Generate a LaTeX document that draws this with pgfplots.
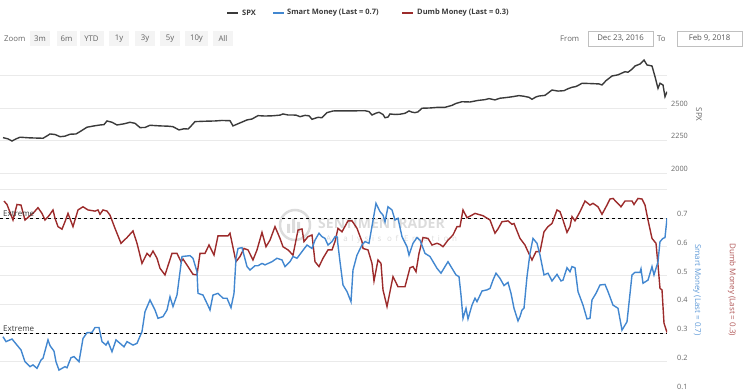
\documentclass[border=0pt]{standalone}
\usepackage{fontspec}
\setmainfont{Open Sans}
\usepackage{pgfplots}
\pgfplotsset{compat=1.18}
\definecolor{spx}{HTML}{3A3A3A}
\definecolor{smart}{HTML}{4287D0}
\definecolor{dumb}{HTML}{9C2B2B}
\definecolor{gridc}{HTML}{EAEAEA}
\definecolor{lab}{HTML}{666666}
\definecolor{btn}{HTML}{F4F4F4}
\definecolor{wm}{HTML}{DCDCDC}
\newcommand\fs[1]{\fontsize{#1}{#1}\selectfont}
\begin{document}
\begin{tikzpicture}[x=1pt,y=1pt]
\useasboundingbox (0,0) rectangle (745,-390);
% legend
\draw[spx, line width=1.3] (227,-13) -- (238,-13);
\node[anchor=west, inner sep=0, font=\fs{7.5}\bfseries, text=spx] at (242,-13) {SPX};
\draw[smart, line width=1.3] (273,-13) -- (284,-13);
\node[anchor=west, inner sep=0, font=\fs{7.5}\bfseries, text=spx] at (287,-13) {Smart Money (Last = 0.7)};
\draw[dumb, line width=1.3] (402,-13) -- (413,-13);
\node[anchor=west, inner sep=0, font=\fs{7.5}\bfseries, text=spx] at (417,-13) {Dumb Money (Last = 0.3)};
% zoom buttons
\node[anchor=west, inner sep=0, font=\fs{7.8}, text=lab] at (4,-38.5) {Zoom};
\foreach \c/\w/\t in {40/20/3m, 66.5/20/6m, 91.5/24/YTD, 119/20/1y, 145/20/3y, 170/20/5y, 196.5/23/10y, 223/20/All}{
  \fill[btn] (\c-\w/2,-31) rectangle (\c+\w/2,-46);
  \node[inner sep=0, font=\fs{7.8}, text=spx!80] at (\c,-38.5) {\t};
}
\node[anchor=west, inner sep=0, font=\fs{7.8}, text=lab] at (560,-38.5) {From};
\draw[gridc!60!gray, line width=0.6, fill=white] (588,-31.5) rectangle (653,-46);
\node[inner sep=0, font=\fs{7.8}, text=spx!85] at (620.5,-38.5) {Dec 23, 2016};
\node[anchor=west, inner sep=0, font=\fs{7.8}, text=lab] at (657,-38.5) {To};
\draw[gridc!60!gray, line width=0.6, fill=white] (677,-31.5) rectangle (742,-46);
\node[inner sep=0, font=\fs{7.8}, text=spx!85] at (709.5,-38.5) {Feb 9, 2018};
% watermark
\draw[wm, line width=2.5] (295,-225) circle (15);
\fill[wm] (287,-233) rectangle (290,-224) (292,-233) rectangle (295,-219) (297,-233) rectangle (300,-222);
\node[anchor=west, inner sep=0, font=\fs{14}\bfseries, text=wm] at (318,-224) {SENTIMENTRADER};
\node[anchor=west, inner sep=0, font=\fs{8}\addfontfeatures{LetterSpace=45}, text=wm] at (326,-239) {Analysis of Emotion};
% top pane
\begin{axis}[at={(0pt,-50pt)}, anchor=north west, scale only axis,
  width=667pt, height=137pt, xmin=0, xmax=667, ymin=1892, ymax=2946,
  axis line style={draw=none}, xtick=\empty,
  ytick={2000,2250,2500,2750}, yticklabels={2000,2250,2500,},
  yticklabel pos=right, ymajorgrids, grid style={gridc, line width=0.8},
  major tick length=0,
  /pgf/number format/assume math mode=true,
  yticklabel style={font=\fs{7.3}, text=lab, anchor=west, inner sep=0, xshift=4pt, yshift=4.5pt}]
\addplot[spx, line width=1.4, mark=none] coordinates {
(3,2272)(8,2262)(12,2246)(16,2262)(20,2275)(30,2270)(43,2267)(47,2285)(50,2300)(55,2296)(60,2279)(65,2283)(70,2298)(76,2300)(80,2318)(87,2352)(94,2362)(100,2369)(104,2372)(107,2400)(112,2390)(117,2369)(124,2378)(130,2390)(135,2382)(140,2349)(145,2350)(150,2367)(160,2362)(168,2360)(173,2356)(179,2331)(184,2340)(188,2338)(190,2352)(195,2395)(205,2398)(215,2400)(222,2404)(230,2402)(233,2362)(240,2385)(247,2408)(252,2415)(258,2441)(265,2438)(273,2440)(280,2445)(283,2454)(288,2446)(292,2446)(296,2445)(300,2433)(305,2443)(309,2440)(312,2413)(318,2428)(322,2425)(327,2464)(333,2477)(345,2478)(355,2478)(365,2479)(369,2472)(372,2446)(376,2460)(379,2467)(383,2450)(385,2425)(388,2430)(390,2454)(395,2450)(400,2452)(405,2459)(409,2477)(412,2468)(415,2464)(418,2470)(422,2498)(430,2500)(438,2505)(445,2505)(452,2520)(456,2535)(462,2548)(470,2546)(478,2558)(485,2564)(489,2572)(495,2562)(500,2575)(505,2579)(512,2586)(519,2595)(524,2590)(529,2582)(532,2567)(536,2585)(539,2592)(545,2597)(552,2638)(558,2630)(564,2633)(568,2648)(572,2659)(576,2665)(579,2677)(582,2690)(590,2688)(599,2685)(602,2677)(606,2710)(612,2746)(618,2755)(625,2779)(628,2775)(632,2798)(635,2823)(640,2838)(644,2869)(647,2831)(652,2823)(655,2741)(658,2651)(660,2690)(663,2677)(665,2587)(667,2625)};
\end{axis}
% bottom pane
\begin{axis}[at={(0pt,-189.25pt)}, anchor=north west, scale only axis,
  width=667pt, height=201.25pt, xmin=0, xmax=667, ymin=0.1, ymax=0.8,
  axis line style={draw=none}, xtick=\empty,
  ytick={0.1,0.2,0.3,0.4,0.5,0.6,0.7,0.8}, yticklabels={0.1,0.2,0.3,0.4,0.5,0.6,0.7,},
  yticklabel pos=right, ymajorgrids, grid style={gridc, line width=0.8},
  major tick length=0,
  /pgf/number format/assume math mode=true,
  yticklabel style={font=\fs{7.3}, text=lab, anchor=west, inner sep=0, xshift=10pt, yshift=4pt}]
\addplot[black, dashed, line width=0.9, mark=none] coordinates {(0,0.7)(667,0.7)};
\addplot[black, dashed, line width=0.9, mark=none] coordinates {(0,0.3)(667,0.3)};
\addplot[dumb, line width=1.4, mark=none] coordinates {
(4,0.759)(7,0.747)(13,0.693)(17,0.747)(21,0.745)(25,0.693)(30,0.708)(33,0.716)(38,0.736)(42,0.716)(45,0.693)(49,0.708)(53,0.728)(55,0.699)(58,0.670)(62,0.661)(65,0.687)(68,0.716)(73,0.670)(78,0.728)(83,0.739)(88,0.728)(95,0.724)(98,0.728)(100,0.713)(103,0.728)(107,0.724)(110,0.710)(115,0.664)(121,0.612)(127,0.632)(133,0.655)(137,0.612)(142,0.542)(147,0.577)(150,0.566)(153,0.585)(157,0.560)(160,0.525)(165,0.502)(172,0.577)(177,0.577)(181,0.548)(183,0.557)(188,0.531)(193,0.504)(197,0.502)(200,0.577)(205,0.577)(209,0.606)(214,0.571)(218,0.638)(228,0.638)(230,0.647)(236,0.548)(240,0.566)(244,0.594)(248,0.589)(253,0.554)(257,0.589)(262,0.650)(266,0.600)(270,0.623)(275,0.670)(280,0.629)(283,0.600)(288,0.589)(293,0.571)(298,0.658)(302,0.662)(304,0.618)(308,0.635)(312,0.641)(315,0.548)(319,0.531)(323,0.560)(328,0.589)(332,0.589)(335,0.618)(338,0.664)(342,0.652)(348,0.690)(352,0.690)(357,0.664)(362,0.618)(363,0.594)(368,0.589)(372,0.542)(374,0.481)(378,0.554)(381,0.542)(383,0.450)(387,0.392)(393,0.496)(398,0.461)(405,0.461)(410,0.527)(413,0.531)(416,0.513)(419,0.577)(423,0.632)(428,0.629)(432,0.606)(437,0.612)(440,0.608)(443,0.600)(448,0.623)(453,0.641)(457,0.670)(460,0.670)(463,0.728)(467,0.701)(472,0.710)(475,0.716)(483,0.708)(490,0.693)(495,0.647)(498,0.662)(502,0.687)(508,0.690)(512,0.678)(514,0.681)(520,0.629)(525,0.606)(528,0.583)(532,0.554)(536,0.583)(540,0.583)(544,0.652)(548,0.670)(552,0.681)(557,0.728)(560,0.722)(563,0.693)(567,0.650)(570,0.670)(572,0.705)(575,0.690)(580,0.722)(585,0.759)(590,0.745)(593,0.751)(598,0.739)(602,0.713)(607,0.745)(610,0.766)(613,0.768)(621,0.739)(625,0.759)(632,0.759)(634,0.747)(638,0.768)(642,0.766)(645,0.745)(648,0.693)(652,0.629)(656,0.612)(658,0.537)(660,0.455)(662,0.450)(664,0.334)(667,0.302)};
\addplot[smart, line width=1.4, mark=none] coordinates {
(3,0.287)(6,0.270)(12,0.279)(17,0.258)(21,0.241)(25,0.200)(30,0.183)(33,0.189)(37,0.177)(41,0.206)(43,0.212)(48,0.276)(50,0.256)(54,0.237)(56,0.200)(59,0.171)(65,0.183)(67,0.179)(71,0.214)(74,0.218)(79,0.200)(83,0.281)(87,0.301)(92,0.302)(95,0.319)(99,0.319)(102,0.270)(106,0.258)(108,0.270)(112,0.235)(116,0.276)(120,0.264)(124,0.252)(127,0.270)(133,0.258)(137,0.264)(142,0.305)(145,0.374)(150,0.415)(155,0.380)(158,0.351)(163,0.357)(167,0.380)(170,0.426)(173,0.392)(177,0.432)(182,0.566)(190,0.569)(193,0.560)(197,0.513)(198,0.438)(203,0.432)(207,0.403)(210,0.380)(213,0.432)(218,0.438)(223,0.421)(227,0.421)(231,0.388)(234,0.438)(236,0.560)(238,0.594)(242,0.597)(247,0.531)(250,0.519)(255,0.534)(258,0.534)(262,0.542)(265,0.537)(272,0.548)(277,0.560)(282,0.554)(285,0.531)(290,0.548)(293,0.566)(297,0.560)(302,0.583)(307,0.606)(312,0.594)(315,0.623)(319,0.647)(322,0.635)(325,0.629)(328,0.606)(332,0.618)(335,0.635)(337,0.635)(340,0.548)(343,0.467)(347,0.444)(351,0.409)(353,0.519)(357,0.571)(362,0.606)(365,0.618)(369,0.612)(376,0.751)(380,0.722)(383,0.710)(385,0.687)(388,0.739)(392,0.728)(395,0.693)(398,0.699)(402,0.635)(407,0.600)(409,0.571)(413,0.612)(417,0.632)(420,0.623)(425,0.577)(430,0.566)(437,0.525)(441,0.508)(445,0.531)(448,0.548)(452,0.525)(456,0.502)(459,0.496)(461,0.432)(463,0.351)(466,0.386)(468,0.349)(472,0.397)(475,0.421)(477,0.409)(482,0.446)(487,0.450)(490,0.455)(493,0.484)(496,0.508)(500,0.490)(504,0.465)(508,0.476)(511,0.438)(514,0.386)(518,0.342)(520,0.357)(522,0.380)(524,0.386)(527,0.496)(530,0.577)(533,0.629)(537,0.612)(540,0.571)(544,0.502)(548,0.508)(552,0.481)(557,0.504)(561,0.481)(563,0.484)(567,0.527)(570,0.513)(572,0.531)(575,0.527)(578,0.444)(583,0.397)(587,0.349)(590,0.351)(592,0.415)(596,0.438)(600,0.467)(605,0.469)(608,0.444)(613,0.397)(618,0.386)(622,0.310)(627,0.339)(632,0.502)(635,0.511)(640,0.511)(641,0.523)(643,0.473)(648,0.484)(652,0.531)(654,0.502)(658,0.548)(660,0.618)(663,0.629)(665,0.632)(667,0.699)};
\node[anchor=south west, inner sep=0, font=\fs{8}, text=spx] at (axis cs:3,0.705) {Extreme};
\node[anchor=south west, inner sep=0, font=\fs{8}, text=spx] at (axis cs:3,0.305) {Extreme};
\end{axis}
% axis titles
\node[rotate=-90, inner sep=0, font=\fs{8}, text=lab] at (699,-114.5) {SPX};
\node[rotate=-90, inner sep=0, font=\fs{8}, text=smart!85] at (697,-290) {Smart Money (Last = 0.7)};
\node[rotate=-90, inner sep=0, font=\fs{8}, text=dumb!80] at (732,-290) {Dumb Money (Last = 0.3)};
\end{tikzpicture}
\end{document}
